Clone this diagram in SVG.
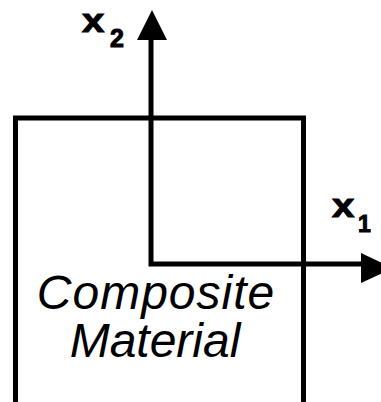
<svg xmlns="http://www.w3.org/2000/svg" width="381" height="402" viewBox="0 0 381 402">
<style>
.ln{fill:none;stroke:#000;stroke-width:5;stroke-linejoin:miter;stroke-linecap:butt}
.hd{fill:#000;stroke:none}
.ax{font-family:"Liberation Sans",Arial,sans-serif;font-weight:bold;fill:#000;stroke:#000;stroke-width:1}
.lb{font-family:"Liberation Sans",Arial,sans-serif;font-style:italic;font-size:48px;fill:#000;text-anchor:middle}
</style>
<rect width="381" height="402" fill="#fff"/>
<g id="material">
<path class="ln" d="M15.5,402 V118 H303.5 V402"/>
<text class="lb" x="156" y="309" letter-spacing="1">Composite</text>
<text class="lb" x="155" y="357">Material</text>
</g>
<g id="connectors">
<path class="ln" d="M151,40 V264 H362"/>
<polygon class="hd" points="152,10 137,40 167,40"/>
<polygon class="hd" points="361,253 361,283 393,268"/>
</g>
<g id="label-x2">
<text class="ax" font-size="34" transform="translate(82,31.5) scale(1.18,1)">x</text>
<text class="ax" font-size="25" x="110" y="47">2</text>
</g>
<g id="label-x1">
<text class="ax" font-size="34" transform="translate(332,217) scale(1.18,1)">x</text>
<text class="ax" font-size="23" x="358" y="232">1</text>
</g>
</svg>
